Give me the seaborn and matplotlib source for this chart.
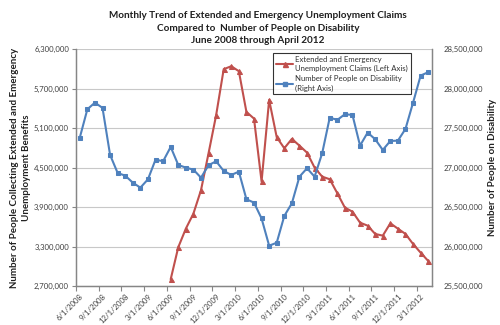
import numpy as np
import matplotlib
matplotlib.use("Agg")
import matplotlib.pyplot as plt
from matplotlib.lines import Line2D
import seaborn as sns

# ---------------- data ----------------
months = list(range(47))  # 6/2008 .. 4/2012
tick_labels = ["6/1/2008", "9/1/2008", "12/1/2008", "3/1/2009", "6/1/2009",
               "9/1/2009", "12/1/2009", "3/1/2010", "6/1/2010", "9/1/2010",
               "12/1/2010", "3/1/2011", "6/1/2011", "9/1/2011", "12/1/2011",
               "3/1/2012"]

# Extended & emergency unemployment claims (left axis), starting 6/2009
claims_start = 12
claims = [2802000, 3289000, 3572000, 3801000, 4157000, 4720000, 5298000,
          5999000, 6044000, 5968000, 5349000, 5247000, 4291000, 5531000,
          4964000, 4796000, 4938000, 4836000, 4729000, 4501000, 4364000,
          4324000, 4111000, 3892000, 3831000, 3664000, 3618000, 3492000,
          3466000, 3654000, 3572000, 3492000, 3339000, 3207000, 3081000]

# Number of people on disability (right axis)
disability = [27381000, 27741000, 27825000, 27758000, 27162000, 26933000,
              26899000, 26810000, 26747000, 26853000, 27102000, 27082000,
              27263000, 27035000, 27001000, 26975000, 26874000, 27031000,
              27082000, 26959000, 26908000, 26950000, 26600000, 26557000,
              26356000, 26011000, 26049000, 26388000, 26549000, 26886000,
              26993000, 26886000, 27183000, 27635000, 27606000, 27678000,
              27669000, 27280000, 27445000, 27361000, 27225000, 27339000,
              27343000, 27492000, 27825000, 28168000, 28211000]

left_ticks = [2700000, 3300000, 3900000, 4500000, 5100000, 5700000, 6300000]
right_ticks = [25500000, 26000000, 26500000, 27000000, 27500000, 28000000, 28500000]

title = ("Monthly Trend of Extended and Emergency Unemployment Claims\n"
         "Compared to  Number of People on Disability\n"
         "June 2008 through April 2012")
left_label = "Number of People Collecting Extended and Emergency\nUnemployment Benefits"
right_label = "Number of People on Disability"
leg_red = "Extended and Emergency\nUnemployment Claims (Left Axis)"
leg_blue = "Number of People on Disability\n(Right Axis)"

RED = "#C0504D"
BLUE = "#4F81BD"
AXIS = "#868686"

# ---------------- plot ----------------
sns.set_style("white")
plt.rcParams["font.family"] = ["Lato", "DejaVu Sans"]

fig = plt.figure(figsize=(5.0, 3.25), dpi=100)
ax = fig.add_axes([0.152, 0.12, 0.712, 0.728])
ax2 = ax.twinx()

claims_x = months[claims_start:]
sns.lineplot(x=claims_x, y=claims, ax=ax, color=RED, linewidth=1.5,
             marker="^", markersize=3.6, markeredgecolor=RED, zorder=3)
sns.lineplot(x=months, y=disability, ax=ax2, color=BLUE, linewidth=1.5,
             marker="s", markersize=3.0, markeredgecolor=BLUE, zorder=3)

ax.set_xlim(-0.5, 46.5)
ax.set_ylim(left_ticks[0], left_ticks[-1])
ax2.set_ylim(right_ticks[0], right_ticks[-1])

ax.set_yticks(left_ticks)
ax.set_yticklabels([f"{v:,}" for v in left_ticks], fontsize=5.6, color="#404040")
ax2.set_yticks(right_ticks)
ax2.set_yticklabels([f"{v:,}" for v in right_ticks], fontsize=5.6, color="#404040")

ax.set_xticks(months[::3])
ax.set_xticklabels(tick_labels, rotation=45, ha="right", rotation_mode="anchor",
                   fontsize=5.6, color="#404040")
ax.set_xticks(np.arange(-0.5, 46, 3), minor=True)
ax.tick_params(axis="x", which="major", length=0, pad=5)
ax.tick_params(axis="x", which="minor", length=3.5, color=AXIS, width=0.8,
               direction="out")
ax.tick_params(axis="y", length=3, color=AXIS, width=0.8, pad=2, direction="out")
ax2.tick_params(axis="y", length=0, pad=8)
ax.xaxis.set_ticks_position("bottom")

ax.grid(True, axis="y", color="#c8c8c8", linewidth=0.8)
ax.set_axisbelow(True)
for a in (ax, ax2):
    a.spines["top"].set_visible(False)
    for s in ("left", "right", "bottom"):
        a.spines[s].set_color(AXIS)
        a.spines[s].set_linewidth(0.9)

ax.set_xlabel("")
ax.set_ylabel(left_label, fontsize=7, fontweight="bold", color="#202020",
              labelpad=2, linespacing=1.5)
ax2.set_ylabel(right_label, fontsize=7, fontweight="bold", color="#202020",
               labelpad=4)

fig.text(0.516, 0.965, title, ha="center", va="top", fontsize=7.2,
         fontweight="bold", color="#202020", linespacing=1.45)

handles = [Line2D([0], [0], color=RED, lw=1.5, marker="^", markersize=3.6),
           Line2D([0], [0], color=BLUE, lw=1.5, marker="s", markersize=3.0)]
leg = ax.legend(handles, [leg_red, leg_blue], loc="upper left",
                bbox_to_anchor=(0.553, 0.985), fontsize=5.6, frameon=True,
                fancybox=False, edgecolor="#000000", handlelength=2.3,
                handletextpad=0.2, borderpad=0.35, labelspacing=0.45,
                borderaxespad=0)
leg.get_frame().set_linewidth(0.8)
for t in leg.get_texts():
    t.set_color("#303030")
    t.set_linespacing(1.35)
leg.set_zorder(10)

fig.savefig("out.png", dpi=100, facecolor="white")
